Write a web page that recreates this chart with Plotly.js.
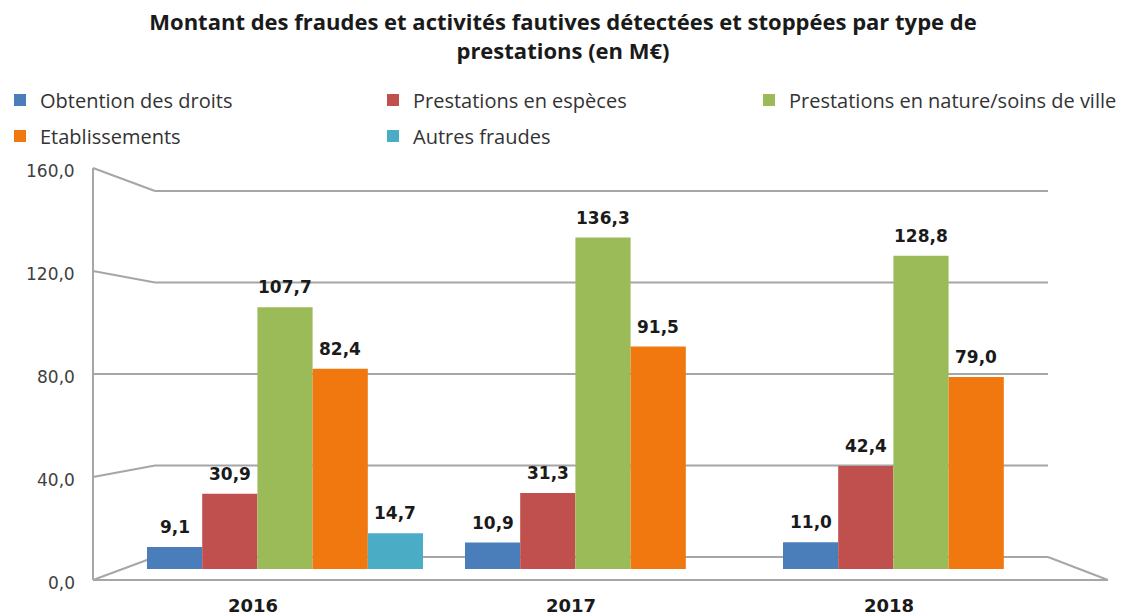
<!DOCTYPE html>
<html>
<head>
<meta charset="utf-8">
<script src="https://cdn.plot.ly/plotly-3.0.1.min.js"></script>
<style>html,body{margin:0;padding:0;background:#fff;}#chart{width:1126px;height:615px;}</style>
</head>
<body>
<div id="chart"></div>
<script>
// ---- data ----
const years = ['2016', '2017', '2018'];
const obtentionDroits = [9.1, 10.9, 11.0];
const prestationsEspeces = [30.9, 31.3, 42.4];
const prestationsNature = [107.7, 136.3, 128.8];
const etablissements = [82.4, 91.5, 79.0];
const autresFraudes = [14.7, null, null];
const seriesNames = ['Obtention des droits', 'Prestations en espèces', 'Prestations en nature/soins de ville', 'Etablissements', 'Autres fraudes'];
const yTickVals = [0, 40, 80, 120, 160];
const yTickText = ['0,0', '40,0', '80,0', '120,0', '160,0'];

// ---- geometry helpers (pixel -> paper) ----
const W = 1126, H = 615;
const px = x => x / W;
const py = y => 1 - y / H;
const YMAX = 160;
const frontY = v => 580 - v * (412 / YMAX);
const backY = v => 557 - v * (366 / YMAX);

const colors = ['#4a7ebb', '#c0504d', '#9bbb59', '#f0780f', '#4bacc6'];
const legendOf = ['legend', 'legend', 'legend2', 'legend3', 'legend3'];
const fmt = v => (v === null || v === undefined) ? '' : v.toFixed(1).replace('.', ',');

const BARGAP = 0.132;
const catPx = (1080 - 126) / years.length;
const slotPx = catPx * (1 - BARGAP) / seriesNames.length;

const allSeries = [obtentionDroits, prestationsEspeces, prestationsNature, etablissements, autresFraudes];
const traces = allSeries.map((vals, i) => ({
  type: 'bar',
  name: seriesNames[i],
  legend: legendOf[i],
  x: years,
  y: vals,
  marker: {color: colors[i], line: {width: 0}},
  hoverinfo: 'skip'
}));

const gridColor = '#a6a6a6';
const shapes = [];
const L = (x0, y0, x1, y1) => shapes.push({type: 'line', xref: 'paper', yref: 'paper', x0: px(x0), y0: py(y0), x1: px(x1), y1: py(y1), line: {color: gridColor, width: 2}, layer: 'below'});
L(93, frontY(YMAX), 93, frontY(0));
L(93, frontY(0), 1108, frontY(0));
yTickVals.forEach(v => {
  L(93, frontY(v), 155, backY(v));
  L(155, backY(v), 1048, backY(v));
});
L(1048, backY(0), 1108, frontY(0));

const annotations = [];
// value labels above each bar
allSeries.forEach((vals, i) => {
  vals.forEach((v, j) => {
    if (v === null || v === undefined) return;
    annotations.push({
      xref: 'x', yref: 'y', x: years[j], y: v,
      xshift: (i - (seriesNames.length - 1) / 2) * slotPx,
      yshift: 8, xanchor: 'center', yanchor: 'bottom',
      text: fmt(v), showarrow: false,
      font: {family: 'DejaVu Sans', size: 17, weight: 'bold', color: '#1a1a1a'}
    });
  });
});
yTickVals.forEach((v, i) => annotations.push({
  xref: 'paper', yref: 'paper', x: px(77), y: py(frontY(v) + 3), xanchor: 'right', yanchor: 'middle',
  text: yTickText[i], showarrow: false,
  font: {family: 'DejaVu Sans', size: 17, color: '#404040'}
}));
years.forEach(yr => annotations.push({
  xref: 'x', yref: 'paper', x: yr, xshift: -32, y: py(605), xanchor: 'center', yanchor: 'middle',
  text: yr, showarrow: false,
  font: {family: 'DejaVu Sans', size: 18, weight: 'bold', color: '#1a1a1a'}
}));

const legendFont = {family: 'Open Sans', size: 20, color: '#333333'};
const legendBase = {orientation: 'h', xanchor: 'left', yanchor: 'middle',
  traceorder: 'normal', font: legendFont, bgcolor: 'rgba(0,0,0,0)', itemclick: false};

const layout = {
  width: W, height: H,
  margin: {l: 0, r: 0, t: 0, b: 0, autoexpand: false},
  paper_bgcolor: '#ffffff', plot_bgcolor: 'rgba(0,0,0,0)',
  title: {
    text: 'Montant des fraudes et activités fautives détectées et stoppées par type de<br>prestations (en M€)',
    font: {family: 'Open Sans', size: 22, weight: 'bold', color: '#1a1a1a'},
    x: 0.5, xanchor: 'center', yref: 'container', y: py(30), yanchor: 'middle'
  },
  barmode: 'group', bargap: BARGAP, bargroupgap: 0,
  xaxis: {domain: [px(126), px(1080)], showticklabels: false, showgrid: false, zeroline: false, showline: false, fixedrange: true},
  yaxis: {domain: [py(569), py(180)], range: [0, YMAX], showticklabels: false, showgrid: false, zeroline: false, showline: false, fixedrange: true},
  showlegend: true,
  legend: Object.assign({}, legendBase, {x: 0, y: py(100), entrywidth: 328, entrywidthmode: 'pixels'}),
  legend2: Object.assign({}, legendBase, {x: px(749), y: py(100)}),
  legend3: Object.assign({}, legendBase, {x: 0, y: py(136), entrywidth: 328, entrywidthmode: 'pixels'}),
  shapes: shapes,
  annotations: annotations
};

Plotly.newPlot('chart', traces, layout, {displayModeBar: false, staticPlot: true});
</script>
</body>
</html>
